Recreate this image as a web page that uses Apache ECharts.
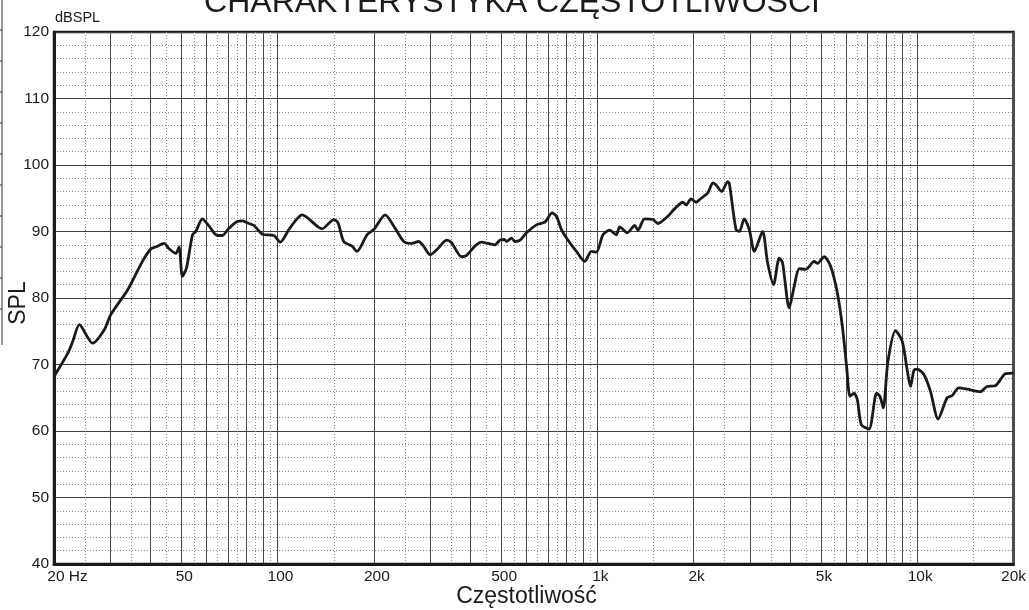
<!DOCTYPE html>
<html>
<head>
<meta charset="utf-8">
<script src="https://cdn.jsdelivr.net/npm/echarts@6/dist/echarts.min.js"></script>
<style>
html,body{margin:0;padding:0;background:#fff;}
#chart{width:1029px;height:610px;}
</style>
</head>
<body>
<div id="chart"></div>
<script>
// ---- data ----
const FREQ = [20, 22.1, 22.9, 24.0, 26.4, 28.7, 30.1, 34.0, 37.8, 40.2, 41.7, 44.2, 45.8, 48.1, 49.2, 50.4, 51.9, 54.2, 55.5, 58.2,
  61.1, 64.8, 67.2, 70.5, 74.8, 77.6, 81.4, 84.4, 89.6, 97.4, 102, 108.5, 115, 119.4, 137.8, 150, 154.6, 161, 171, 177,
  190.4, 200, 217, 233, 248, 263, 276, 286, 300, 315, 338, 350, 376, 390, 414, 434, 456, 478, 496, 512,
  520, 539, 552, 573, 600, 645, 685, 722, 745, 772, 820, 860, 913, 957, 993, 1041, 1092, 1146, 1174, 1240,
  1308, 1339, 1405, 1491, 1546, 1661, 1742, 1849, 1894, 1963, 2035, 2110, 2214, 2295, 2349, 2447, 2554, 2586, 2712, 2780,
  2877, 2985, 3095, 3285, 3405, 3555, 3702, 3792, 3978, 4125, 4276, 4482, 4762, 4875, 5116, 5364, 5628, 5835, 6015, 6165,
  6343, 6498, 6689, 7069, 7464, 7646, 7831, 8099, 8553, 8974, 9302, 9529, 9764, 9995, 10491, 10994, 11622, 12399, 12852, 13479,
  14324, 15743, 16519, 17532, 18842, 19770, 20000];
const SPL = [68.2, 71.7, 73.5, 76.0, 73.2, 75.2, 77.5, 81.25, 85.5, 87.4, 87.7, 88.2, 87.4, 86.7, 87.7, 83.25, 84.5, 89.5, 90.0, 91.9,
  90.8, 89.4, 89.4, 90.5, 91.5, 91.6, 91.2, 90.9, 89.6, 89.4, 88.4, 90.3, 91.9, 92.5, 90.4, 91.8, 91.3, 88.5, 87.8, 87.0,
  89.5, 90.3, 92.5, 90.5, 88.5, 88.2, 88.5, 87.8, 86.5, 87.3, 88.7, 88.3, 86.2, 86.4, 87.8, 88.4, 88.2, 88.0, 88.7, 88.8,
  88.5, 89.0, 88.5, 88.7, 89.8, 91.0, 91.4, 92.8, 92.3, 90.3, 88.3, 87.0, 85.5, 87.0, 86.9, 89.5, 90.2, 89.5, 90.7, 89.8,
  90.9, 90.2, 91.9, 91.8, 91.2, 92.3, 93.4, 94.4, 94.0, 94.9, 94.4, 95.0, 95.8, 97.3, 97.0, 96.0, 97.5, 97.2, 90.3, 90.0,
  91.9, 90.3, 87.0, 90.0, 85.3, 82.0, 86.0, 85.3, 78.5, 81.75, 84.4, 84.3, 85.5, 85.2, 86.2, 84.75, 80.75, 75.7, 69.7, 65.2,
  65.7, 64.7, 60.95, 60.3, 65.7, 65.2, 63.5, 70.5, 75.1, 73.5, 69.2, 66.7, 69.1, 69.3, 68.5, 66.0, 61.8, 65.0, 65.3, 66.5,
  66.3, 65.9, 66.7, 66.8, 68.6, 68.7, 68.8];

const X_LABEL_FREQ = [20, 50, 100, 200, 500, 1000, 2000, 5000, 10000, 20000];
const X_LABEL_TEXT = ['20 Hz', '50', '100', '200', '500', '1k', '2k', '5k', '10k', '20k'];
const Y_MIN = 40, Y_MAX = 120, Y_STEP = 10;
const F_MIN = 20, F_MAX = 20000;

// grid line frequencies: solid at k*10^n, dotted at (k+0.5)*10^n
const SOLID = [], DOTTED = [];
[10, 100, 1000, 10000].forEach(d => {
  for (let k = 1; k <= 9; k++) {
    const s = k * d, h = (k + 0.5) * d;
    if (s >= F_MIN && s <= F_MAX) SOLID.push(Math.log10(s));
    if (h >= F_MIN && h <= F_MAX) DOTTED.push(Math.log10(h));
  }
});

const lmin = Math.log10(F_MIN), lmax = Math.log10(F_MAX);
const data = FREQ.map((f, i) => [Math.log10(f), SPL[i]]);
const FONT = '"Liberation Sans", Arial, sans-serif';

function labelFor(v) {
  for (let i = 0; i < X_LABEL_FREQ.length; i++) {
    if (Math.abs(Math.log10(X_LABEL_FREQ[i]) - v) < 1e-6) {
      if (i === 0) return '{m|' + X_LABEL_TEXT[i] + '}';
      if (i === X_LABEL_FREQ.length - 1) return '{z|' + X_LABEL_TEXT[i] + '}';
      return '{n|' + X_LABEL_TEXT[i] + '}';
    }
  }
  return '';
}

const chart = echarts.init(document.getElementById('chart'), null, {renderer: 'canvas'});
const ticks = [];
for (let i = 0; i < 10; i++) {
  const y = 30 + i * 31;
  ticks.push({type: 'line', shape: {x1: 0, y1: y, x2: 2, y2: y}, style: {stroke: '#333', lineWidth: 1}});
}
chart.setOption({
  animation: false,
  backgroundColor: '#fff',
  grid: {left: 54, right: 12, top: 32, bottom: 46, show: true, borderColor: '#1a1a1a', borderWidth: 2.5, containLabel: false},
  graphic: [
    {type: 'text', x: 512, y: 3, style: {text: 'CHARAKTERYSTYKA CZĘSTOTLIWOŚCI', font: '32px ' + FONT, fill: '#1a1a1a', verticalAlign: 'middle', align: 'center'}},
    {type: 'text', x: 55, y: 17.5, style: {text: 'dBSPL', font: '14.5px ' + FONT, fill: '#1a1a1a', verticalAlign: 'middle', align: 'left'}},
    {type: 'text', x: 18.5, y: 303, rotation: Math.PI / 2, style: {text: 'SPL', font: '23px ' + FONT, fill: '#1a1a1a', verticalAlign: 'middle', align: 'center'}},
    {type: 'text', x: 526.5, y: 597, style: {text: 'Częstotliwość', font: '23px ' + FONT, fill: '#1a1a1a', verticalAlign: 'middle', align: 'center'}},
    {type: 'line', shape: {x1: 2, y1: 0, x2: 2, y2: 345}, style: {stroke: '#333', lineWidth: 1}}
  ].concat(ticks),
  xAxis: [
    {
      type: 'value', min: lmin, max: lmax,
      axisLine: {show: true, onZero: false, lineStyle: {color: '#1a1a1a', width: 3}},
      axisTick: {show: false, customValues: SOLID},
      splitLine: {show: true, lineStyle: {color: '#4a4a4a', width: 1, type: 'solid'}},
      axisLabel: {
        customValues: X_LABEL_FREQ.map(f => Math.log10(f)),
        formatter: labelFor, margin: 5, color: '#1a1a1a', fontFamily: FONT, fontSize: 15.5,
        alignMinLabel: 'center', alignMaxLabel: 'center', hideOverlap: false,
        rich: {
          m: {fontFamily: FONT, fontSize: 15.5, color: '#1a1a1a', padding: [0, 0, 0, 27]},
          n: {fontFamily: FONT, fontSize: 15.5, color: '#1a1a1a', padding: [0, 0, 0, 6]},
          z: {fontFamily: FONT, fontSize: 15.5, color: '#1a1a1a'}
        }
      }
    },
    {
      type: 'value', min: lmin, max: lmax, position: 'bottom',
      axisLine: {show: false}, axisLabel: {show: false},
      axisTick: {show: false, customValues: DOTTED},
      splitLine: {show: true, lineStyle: {color: '#8c8c8c', width: 1, type: [1, 2]}}
    }
  ],
  yAxis: {
    type: 'value', min: Y_MIN, max: Y_MAX, interval: Y_STEP,
    axisLine: {show: true, onZero: false, lineStyle: {color: '#1a1a1a', width: 3}},
    axisTick: {show: false},
    axisLabel: {margin: 5, color: '#1a1a1a', fontFamily: FONT, fontSize: 15.5},
    splitLine: {show: true, lineStyle: {color: '#404040', width: 1}},
    minorTick: {show: false, splitNumber: 5},
    minorSplitLine: {show: true, lineStyle: {color: '#8c8c8c', width: 1, type: [1, 2]}}
  },
  series: [{
    type: 'line', data: data, xAxisIndex: 0, showSymbol: false, smooth: 0.25,
    lineStyle: {color: '#1a1a1a', width: 2.8}, z: 10
  }]
});
</script>
</body>
</html>
